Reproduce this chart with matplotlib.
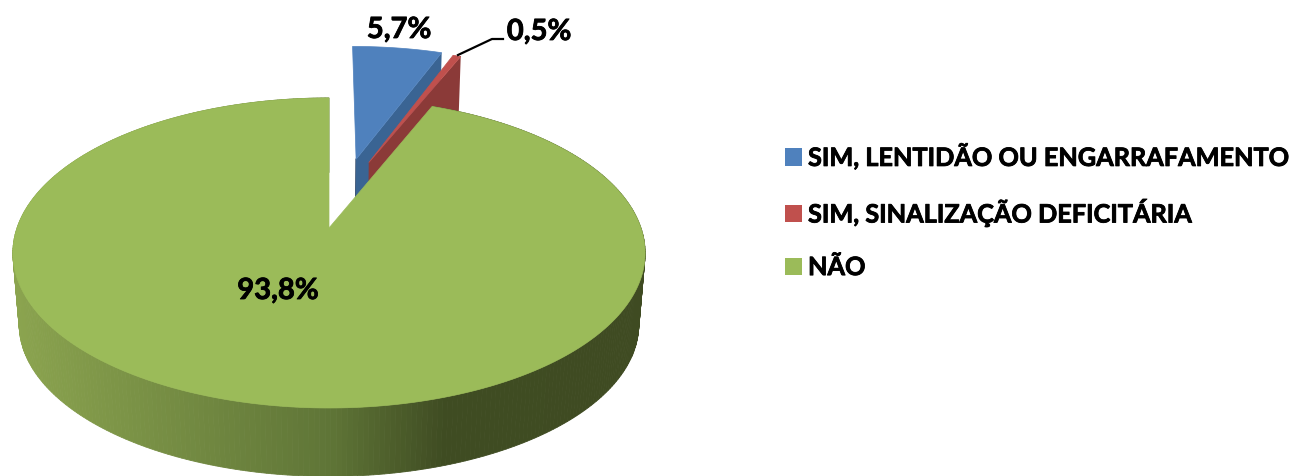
import numpy as np
import matplotlib
matplotlib.use("Agg")
import matplotlib.pyplot as plt
import matplotlib.patheffects as pe
from matplotlib.colors import to_rgb
from matplotlib.patches import Patch, Polygon

labels = ["SIM, LENTIDÃO OU ENGARRAFAMENTO", "SIM, SINALIZAÇÃO DEFICITÁRIA", "NÃO"]
values = [5.7, 0.5, 93.8]
value_text = ["5,7%", "0,5%", "93,8%"]

top_colors = ["#4F81BD", "#C0504D", "#9BBB59"]
face_colors = ["#3A6493", "#8B3A38"]

# perspective of the pie, in pixels of the picture
CX, CY = 329, 228
RX, RY = 312, 151
K = 0.161
THICK = 72
SHRINK = 0.02

# how far each small slice is pulled out (direction in degrees, length)
explode = [(10.8, 0.5), (16.4, 0.485), (0, 0)]


def project(x, y, depth=0):
    s = 1 - SHRINK * depth
    w = 1 + K * y
    return CX + s * RX * x / w, CY + depth * THICK - s * RY * y / w


def rim(a0, a1, off, depth=0, n=120):
    t = np.radians(np.linspace(a0, a1, n))
    return np.column_stack(project(np.sin(t) + off[0], np.cos(t) + off[1], depth))


def wall_color(x):
    stops = [12, 330, 445, 645]
    cols = np.array([to_rgb(c) for c in ["#8BA44F", "#5F7537", "#3F4C22", "#3F4B22"]])
    return [np.interp(x, stops, cols[:, i]) for i in range(3)]


fig = plt.figure(figsize=(12.99, 4.76), dpi=100)
ax = fig.add_axes([0, 0, 1, 1])
ax.set_xlim(0, 1299)
ax.set_ylim(476, 0)
ax.axis("off")

ends = np.cumsum(values) / sum(values) * 360
starts = np.r_[0, ends[:-1]]
offs = [(l * np.sin(np.radians(d)), l * np.cos(np.radians(d))) for d, l in explode]

# blue and red slices: top and visible cut faces
for i in range(2):
    off = offs[i]
    apex = project(off[0], off[1])
    apex_low = project(off[0], off[1], 1)
    end_top = rim(ends[i], ends[i], off, 0, 1)[0]
    end_low = rim(ends[i], ends[i], off, 1, 1)[0]
    ax.add_patch(Polygon([apex, end_top, end_low, apex_low], fc=face_colors[i], ec="none"))
    if i == 0:
        # thin dark edge, the green top has to cover its lower end
        ax.plot([apex[0], apex_low[0]], [apex[1], apex_low[1]], color="#1F3A5F", lw=1, zorder=0.9)
    top = np.vstack([[apex], rim(starts[i], ends[i], off)])
    ax.add_patch(Polygon(top, fc=top_colors[i], ec=top_colors[i], lw=0.5))

# green slice: shaded outer wall, then top
up = rim(starts[2], ends[2], offs[2], 0, 400)
low = rim(starts[2], ends[2], offs[2], 1, 400)
for j in range(len(up) - 1):
    quad = [up[j], up[j + 1], low[j + 1], low[j]]
    c = wall_color((up[j][0] + up[j + 1][0]) / 2)
    ax.add_patch(Polygon(quad, fc=c, ec=c, lw=0.6))
ax.add_patch(Polygon(np.vstack([[project(0, 0)], up]), fc=top_colors[2], ec=top_colors[2], lw=0.5))

bold = [pe.withStroke(linewidth=0.6, foreground="black")]
font = dict(family="Lato", fontweight="bold", color="black", path_effects=bold)
ax.text(399, 30, value_text[0], ha="center", va="center", fontsize=21, **font)
ax.text(539, 32, value_text[1], ha="center", va="center", fontsize=21, **font)
ax.text(278, 291, value_text[2], ha="center", va="center", fontsize=21, **font)
ax.plot([458, 492, 503], [55, 39, 39], color="black", lw=1.6)

handles = [Patch(fc=c, ec="none") for c in top_colors]
leg = ax.legend(handles, labels, loc="upper left", bbox_to_anchor=(785, 144), bbox_transform=ax.transData,
                frameon=False, prop=dict(family="Lato", weight="bold", size=18.2),
                handlelength=0.67, handleheight=0.67, handletextpad=0.24, labelspacing=1.17,
                borderpad=0, borderaxespad=0)
for t in leg.get_texts():
    t.set_path_effects(bold)

fig.savefig("out.png", dpi=100)
